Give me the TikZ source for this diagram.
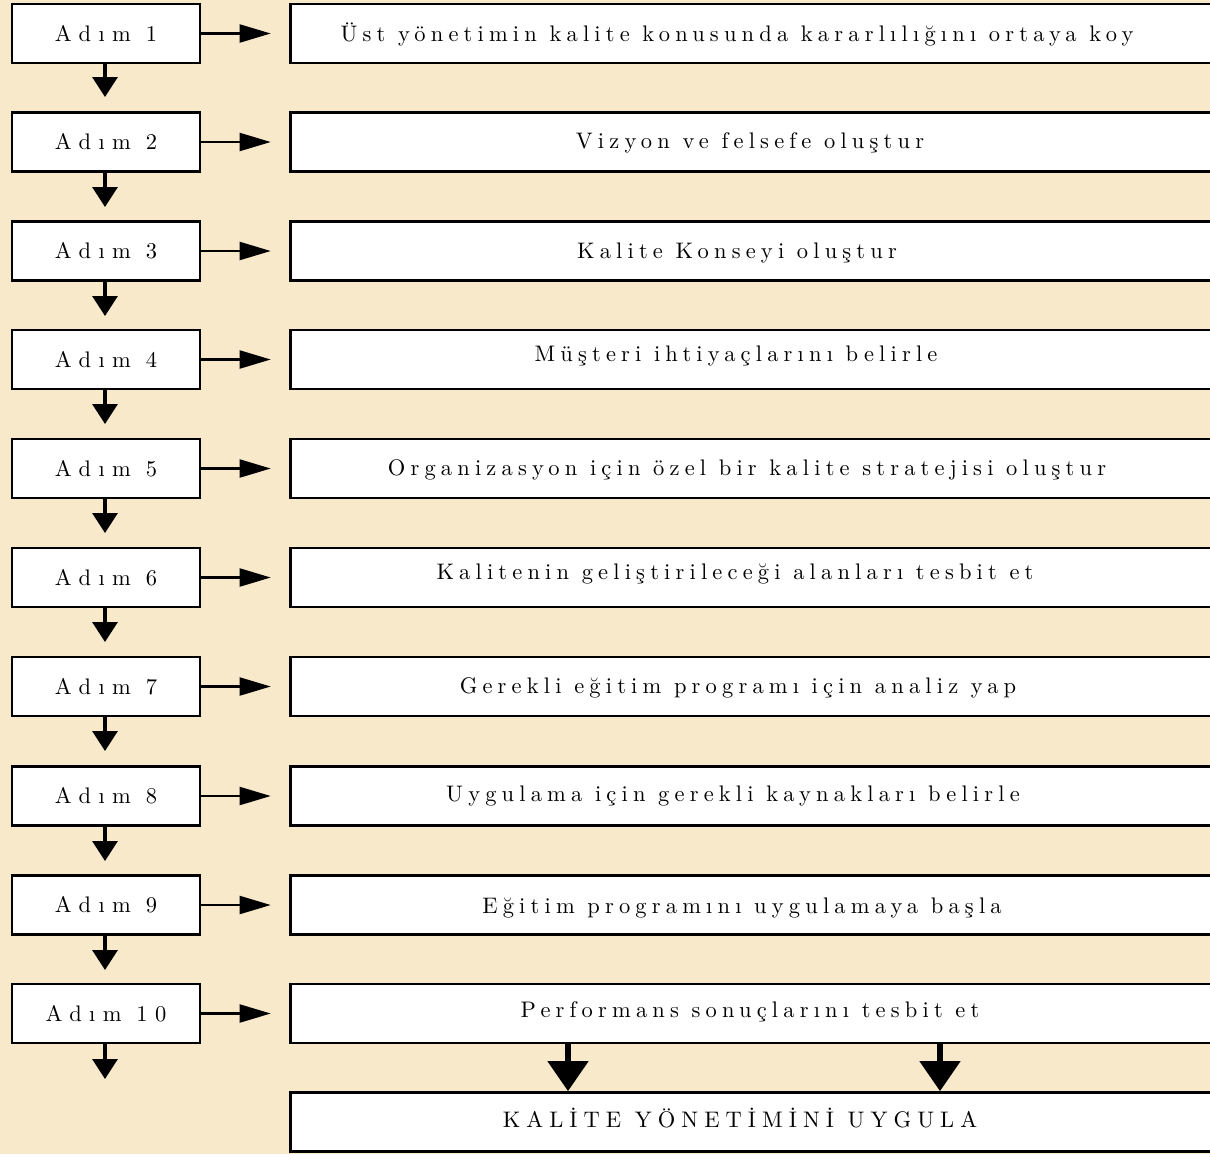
\documentclass[tikz,border=0pt]{standalone}
\usepackage{fontspec}
\newfontfamily\stepfont{lmroman10-regular.otf}[LetterSpace=33]
\newfontfamily\taskfont{lmroman10-regular.otf}[LetterSpace=23]
\newfontfamily\capsfont{lmroman10-regular.otf}[LetterSpace=27]
\usetikzlibrary{arrows.meta}
\definecolor{parchment}{RGB}{248,233,203}

\begin{document}
\begin{tikzpicture}[x=0.02cm,y=-0.02cm,
	stepbox/.style={shape=rectangle,draw=black,fill=white,line width=1.6pt,minimum width=3.76cm,minimum height=1.18cm,inner sep=0pt,font=\stepfont\fontsize{12.8}{15}\selectfont},
	taskbox/.style={shape=rectangle,draw=black,fill=white,line width=1.6pt,minimum width=19.2cm,minimum height=1.18cm,inner sep=0pt},
	tasktext/.style={inner sep=0pt,text height=0.8em,text depth=0.25em,font=\taskfont\fontsize{12.8}{15}\selectfont},
	rightarrow/.style={line width=1.2pt,-{Triangle[length=0.62cm,width=0.36cm]},shorten >=0.36cm},
	downarrow/.style={line width=1.8pt,-{Triangle[length=0.4cm,width=0.5cm]}},
	bigarrow/.style={line width=2.9pt,-{Triangle[length=0.6cm,width=0.8cm]}}]
	\useasboundingbox (0,0) rectangle (1210,1154);
	\clip (0,0) rectangle (1210,1154);
	\fill[parchment] (0,0) rectangle (1210,1154);

	% steps on the left
	\node[stepbox] (L1) at (106,33.5) {Adım 1};
	\node[stepbox] (L2) at (106,142) {Adım 2};
	\node[stepbox] (L3) at (106,251) {Adım 3};
	\node[stepbox] (L4) at (106,359.5) {Adım 4};
	\node[stepbox] (L5) at (106,468.5) {Adım 5};
	\node[stepbox] (L6) at (106,577.5) {Adım 6};
	\node[stepbox] (L7) at (106,686.5) {Adım 7};
	\node[stepbox] (L8) at (106,796) {Adım 8};
	\node[stepbox] (L9) at (106,905) {Adım 9};
	\node[stepbox] (L10) at (106,1013.5) {Adım 10};

	% boxes on the right
	\node[taskbox] (R1) at (770,33.5) {};
	\node[taskbox] (R2) at (770,142) {};
	\node[taskbox] (R3) at (770,251) {};
	\node[taskbox] (R4) at (770,359.5) {};
	\node[taskbox] (R5) at (770,468.5) {};
	\node[taskbox] (R6) at (770,577.5) {};
	\node[taskbox] (R7) at (770,686.5) {};
	\node[taskbox] (R8) at (770,796) {};
	\node[taskbox] (R9) at (770,905) {};
	\node[taskbox] (R10) at (770,1013.5) {};
	\node[taskbox] (K) at (770,1122) {};

	\node[tasktext] (T1) at (737,37) {Üst yönetimin kalite konusunda kararlılığını ortaya koy};
	\node[tasktext] (T2) at (750,144) {Vizyon ve felsefe oluştur};
	\node[tasktext] (T3) at (737,254) {Kalite Konseyi oluştur};
	\node[tasktext] (T4) at (736,357) {Müşteri ihtiyaçlarını belirle};
	\node[tasktext] (T5) at (747,471) {Organizasyon için özel bir kalite stratejisi oluştur};
	\node[tasktext] (T6) at (735,575) {Kalitenin geliştirileceği alanları tesbit et};
	\node[tasktext] (T7) at (738,689) {Gerekli eğitim programı için analiz yap};
	\node[tasktext] (T8) at (733,797) {Uygulama için gerekli kaynakları belirle};
	\node[tasktext] (T9) at (742,909) {Eğitim programını uygulamaya başla};
	\node[tasktext] (T10) at (750,1013) {Performans sonuçlarını tesbit et};
	\node[tasktext,font=\capsfont\fontsize{12.8}{15}\selectfont] (TK) at (740,1123) {KALİTE YÖNETİMİNİ UYGULA};

	% free ends
	\coordinate (D1) at (105,97);
	\coordinate (D2) at (105,207);
	\coordinate (D3) at (105,316);
	\coordinate (D4) at (105,424);
	\coordinate (D5) at (105,533);
	\coordinate (D6) at (105,642);
	\coordinate (D7) at (105,751);
	\coordinate (D8) at (105,861);
	\coordinate (D9) at (105,970);
	\coordinate (D10) at (105,1079);
	\coordinate (A1) at (568,1068);
	\coordinate (A2) at (940,1068);

	\path (L1) edge[rightarrow] (R1);
	\path (L2) edge[rightarrow] (R2);
	\path (L3) edge[rightarrow] (R3);
	\path (L4) edge[rightarrow] (R4);
	\path (L5) edge[rightarrow] (R5);
	\path (L6) edge[rightarrow] (R6);
	\path (L7) edge[rightarrow] (R7);
	\path (L8) edge[rightarrow] (R8);
	\path (L9) edge[rightarrow] (R9);
	\path (L10) edge[rightarrow] (R10);

	\path (L1.south -| D1) edge[downarrow] (D1);
	\path (L2.south -| D2) edge[downarrow] (D2);
	\path (L3.south -| D3) edge[downarrow] (D3);
	\path (L4.south -| D4) edge[downarrow] (D4);
	\path (L5.south -| D5) edge[downarrow] (D5);
	\path (L6.south -| D6) edge[downarrow] (D6);
	\path (L7.south -| D7) edge[downarrow] (D7);
	\path (L8.south -| D8) edge[downarrow] (D8);
	\path (L9.south -| D9) edge[downarrow] (D9);
	\path (L10.south -| D10) edge[downarrow] (D10);

	\path (A1 |- R10.south) edge[bigarrow] (A1 |- K.north);
	\path (A2 |- R10.south) edge[bigarrow] (A2 |- K.north);
\end{tikzpicture}
\end{document}
